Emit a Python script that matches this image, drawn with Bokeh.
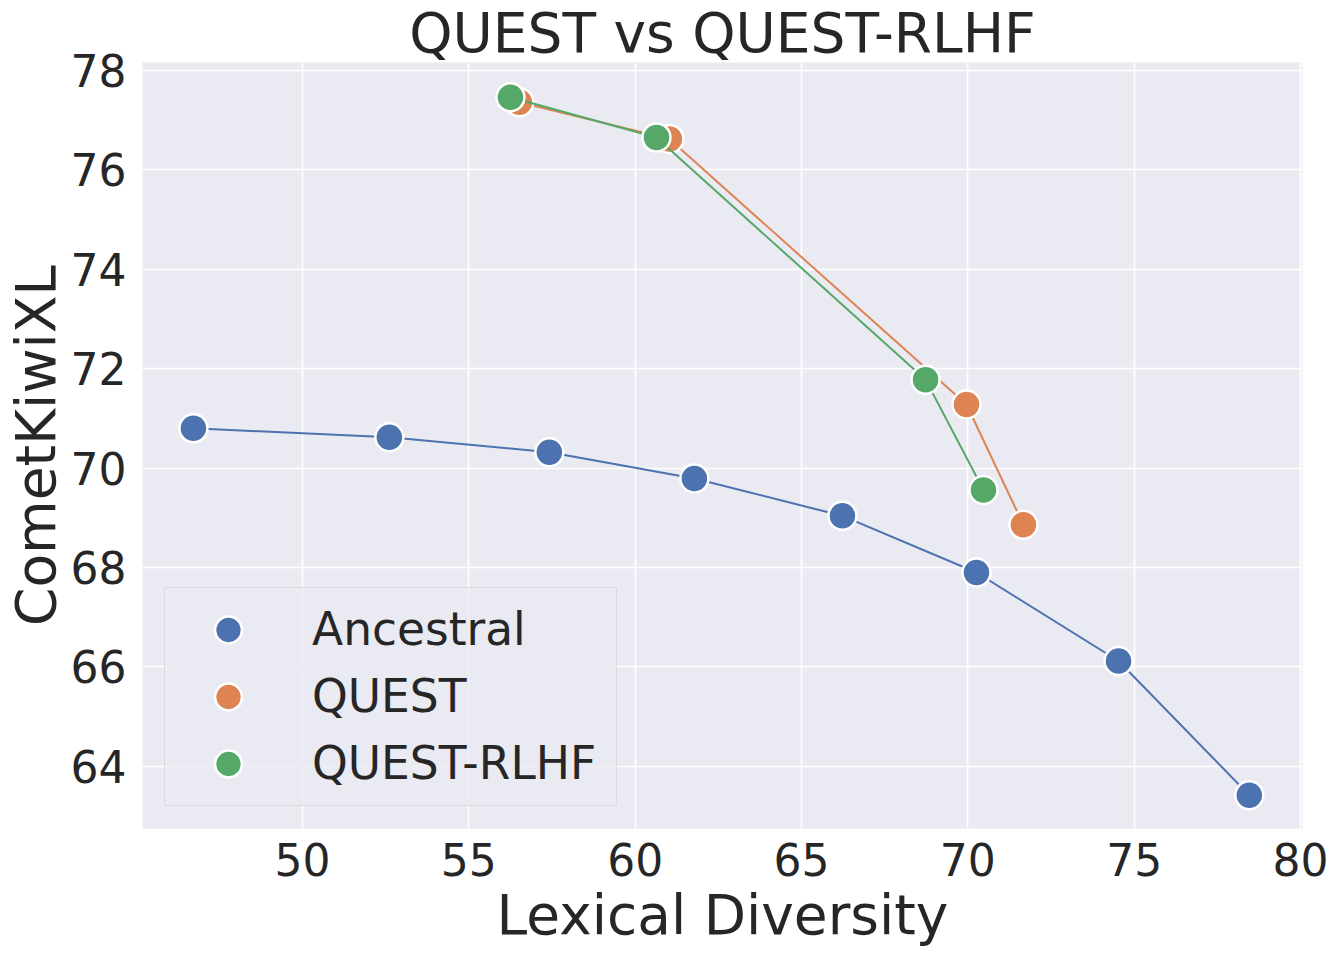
from bokeh.plotting import figure
from bokeh.models import Range1d, FixedTicker, Legend, LegendItem
from bokeh.embed import file_html
from bokeh.resources import INLINE

anc_x = [46.72, 52.61, 57.42, 61.78, 66.23, 70.26, 74.53, 78.46]
anc_y = [70.80, 70.62, 70.32, 69.79, 69.04, 67.90, 66.12, 63.42]
quest_x = [56.52, 61.03, 69.96, 71.67]
quest_y = [77.36, 76.62, 71.28, 68.86]
rlhf_x = [56.25, 60.64, 68.73, 70.47]
rlhf_y = [77.46, 76.65, 71.78, 69.56]
x_ticks = [50, 55, 60, 65, 70, 75, 80]
y_ticks = [64, 66, 68, 70, 72, 74, 76, 78]

BLUE, ORANGE, GREEN = "#4C72B0", "#DD8452", "#55A868"
TXT = "#262626"
FONT = "DejaVu Sans"

p = figure(frame_width=1160, frame_height=766, output_backend="svg", toolbar_location=None,
           x_range=Range1d(45.19, 80.06), y_range=Range1d(62.75, 78.16),
           min_border_left=134, min_border_right=32, min_border_top=50, min_border_bottom=122,
           title="QUEST vs QUEST-RLHF")
p.background_fill_color = "#EAEAF2"
p.border_fill_color = "white"
p.outline_line_color = None

p.title.text_font = FONT
p.title.text_font_size = "55px"
p.title.text_font_style = "normal"
p.title.text_color = TXT
p.title.align = "center"
p.title.standoff = -4

for ax in (p.xaxis[0], p.yaxis[0]):
    ax.axis_line_color = None
    ax.major_tick_line_color = None
    ax.minor_tick_line_color = None
    ax.major_label_text_font = FONT
    ax.major_label_text_font_size = "44px"
    ax.major_label_text_color = TXT
    ax.axis_label_text_font = FONT
    ax.axis_label_text_font_size = "55px"
    ax.axis_label_text_font_style = "normal"
    ax.axis_label_text_color = TXT
p.xaxis.ticker = FixedTicker(ticks=x_ticks)
p.yaxis.ticker = FixedTicker(ticks=y_ticks)
p.xaxis.axis_label = "Lexical Diversity"
p.yaxis.axis_label = "CometKiwiXL"
p.xaxis.major_label_standoff = 8
p.yaxis.major_label_standoff = 10
p.xaxis.axis_label_standoff = 4
p.yaxis.axis_label_standoff = 0

p.grid.grid_line_color = "white"
p.grid.grid_line_width = 1.6

items = []
for xs, ys, c, name in [(anc_x, anc_y, BLUE, "Ancestral"),
                        (quest_x, quest_y, ORANGE, "QUEST"),
                        (rlhf_x, rlhf_y, GREEN, "QUEST-RLHF")]:
    p.line(xs, ys, line_color=c, line_width=2)
    r = p.scatter(xs, ys, size=28, fill_color=c, line_color="white", line_width=2.5)
    items.append(LegendItem(label=name, renderers=[r]))

leg = Legend(items=items, location="bottom_left")
leg.margin = 22
leg.padding = 8
leg.spacing = 0
leg.glyph_width = 110
leg.glyph_height = 67
leg.label_height = 67
leg.label_width = 296
leg.label_standoff = 29
leg.label_text_font = FONT
leg.label_text_font_size = "45.5px"
leg.label_text_color = TXT
leg.background_fill_color = "#EAEAF2"
leg.background_fill_alpha = 0.8
leg.border_line_color = "#CCCCCC"
leg.border_line_width = 1.5
p.add_layout(leg)

open("out.html", "w").write(file_html(p, INLINE))
